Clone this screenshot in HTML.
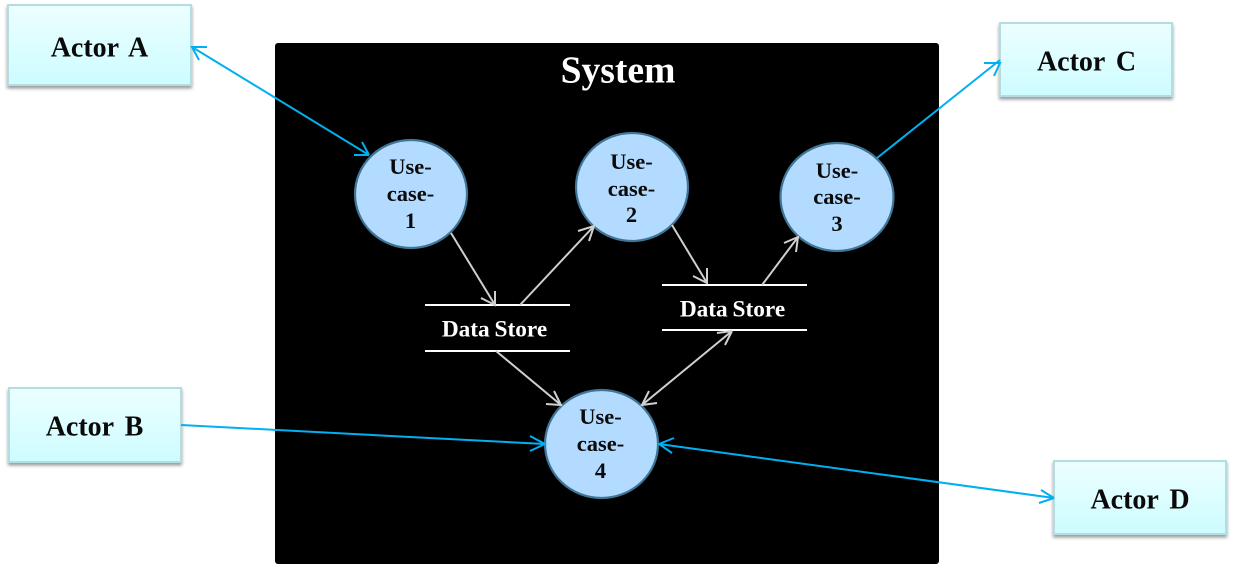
<!DOCTYPE html>
<html><head><meta charset="utf-8"><style>
html,body{margin:0;padding:0;background:#fff}
svg{display:block}
text{font-family:"Liberation Serif",serif;font-weight:bold;text-anchor:middle}
.a{font-size:28px;fill:#0a0a0a;word-spacing:4px}
.u{font-size:22.5px;fill:#0a0a0a}
.d{font-size:23.3px;fill:#fff;word-spacing:-1px}
.act{fill:url(#g);stroke:#b2dde2;stroke-width:2;filter:url(#s)}
.c{fill:#b3dbff;stroke:#3f7596;stroke-width:2.2}
.b{fill:none;stroke:#00b0f0;stroke-width:2}
.w{fill:none;stroke:#cfcfcf;stroke-width:2}
.l{stroke:#fff;stroke-width:2}
</style></head><body>
<svg width="1234" height="564" viewBox="0 0 1234 564" xmlns="http://www.w3.org/2000/svg">
<defs>
<linearGradient id="g" x1="0" y1="0" x2="0" y2="1"><stop offset="0" stop-color="#ecffff"/><stop offset="1" stop-color="#cdfcff"/></linearGradient>
<filter id="s" x="-10%" y="-10%" width="120%" height="125%"><feDropShadow dx="0" dy="2.5" stdDeviation="1.5" flood-color="#000" flood-opacity=".4"/></filter>
</defs>
<rect x="275" y="43" width="664" height="521" rx="3" fill="#000"/>
<text x="618" y="82.500" style="font-size:37.600px;fill:#fff">System</text>

<rect class="act" x="8" y="5" width="183" height="80"/>
<text class="a" x="99.500" y="56.500">Actor A</text>
<rect class="act" x="1000" y="23" width="172" height="73"/>
<text class="a" x="1086.500" y="70.500">Actor C</text>
<rect class="act" x="9" y="388" width="172" height="74"/>
<text class="a" x="94.500" y="435.500">Actor B</text>
<rect class="act" x="1054" y="461" width="172" height="73"/>
<text class="a" x="1140" y="508.500">Actor D</text>

<ellipse class="c" cx="411" cy="194" rx="56" ry="54"/>
<ellipse class="c" cx="632" cy="187" rx="56" ry="54"/>
<ellipse class="c" cx="837" cy="197" rx="56.500" ry="54"/>
<ellipse class="c" cx="601.500" cy="444" rx="56.500" ry="54"/>

<text class="u" x="410.500" y="174">Use-</text><text class="u" x="410.500" y="201">case-</text><text class="u" x="410.500" y="228">1</text>
<text class="u" x="631.500" y="169">Use-</text><text class="u" x="631.500" y="196">case-</text><text class="u" x="631.500" y="222">2</text>
<text class="u" x="837" y="178">Use-</text><text class="u" x="837" y="204">case-</text><text class="u" x="837" y="231">3</text>
<text class="u" x="600.500" y="424">Use-</text><text class="u" x="600.500" y="451">case-</text><text class="u" x="600.500" y="478">4</text>

<line class="l" x1="425" y1="305" x2="570" y2="305"/>
<line class="l" x1="425" y1="351" x2="570" y2="351"/>
<text class="d" x="494.500" y="336.500">Data Store</text>
<line class="l" x1="662" y1="285" x2="807" y2="285"/>
<line class="l" x1="662" y1="330" x2="807" y2="330"/>
<text class="d" x="732.500" y="316.500">Data Store</text>

<path class="b" d="M192 47L369 155M207 47H192L199 60M369 155L354 155M369 155L362 142"/>
<path class="b" d="M877 158L1000 60M984 63H1000L994 76"/>
<path class="b" d="M181 425L545 444M530 436L545 444L530 451"/>
<path class="b" d="M659 444L1054 498M674 438L659 444L672 453M1054 498L1041 490M1054 498L1039 503"/>

<path class="w" d="M451 233L495 305M495 291V305L481 298"/>
<path class="w" d="M520 305L594 226M578 231L594 226L589 241"/>
<path class="w" d="M672 225L707 283M707 268V283L693 276"/>
<path class="w" d="M762 285L798 237M784 243L798 237L796 252"/>
<path class="w" d="M496 351L561 405M554 391L561 405L546 404"/>
<path class="w" d="M732 331L642 405M649 391L642 405L657 403M732 331L717 333M732 331L725 345"/>
</svg>
</body></html>
